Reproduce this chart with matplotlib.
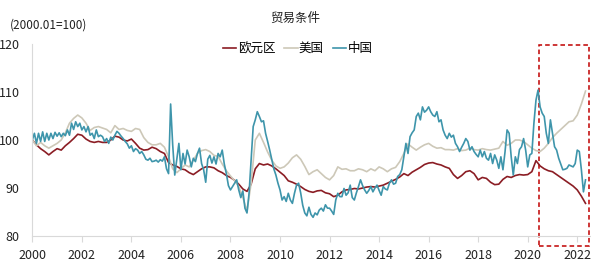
import numpy as np
import matplotlib
matplotlib.use('Agg')
import matplotlib.pyplot as plt
from matplotlib.patches import Rectangle

plt.rcParams['font.family'] = ['Liberation Sans Narrow', 'Noto Sans CJK SC', 'DejaVu Sans']

# 欧元区 / 美国: every other month from 2000.01, 中国: monthly from 2000.01
eu = [100.0, 99.0, 98.2, 97.6, 96.9, 97.6,
      98.2, 97.9, 98.8, 99.5, 100.3, 101.2,
      101.0, 100.2, 99.7, 99.5, 99.7, 99.5,
      99.5, 100.0, 100.8, 100.6, 100.0, 99.8,
      100.2, 99.3, 98.3, 97.9, 98.0, 98.5,
      98.2, 97.6, 97.2, 95.3, 94.8, 94.5,
      94.0, 93.8, 93.2, 92.8, 93.4, 94.0,
      94.4, 94.4, 94.2, 93.6, 93.2, 92.6,
      92.2, 91.6, 90.8, 89.8, 89.3, 90.8,
      94.0, 95.1, 94.8, 95.0, 94.6, 94.0,
      93.3, 92.6, 91.5, 91.2, 90.8, 90.3,
      89.7, 89.3, 89.1, 89.4, 89.5, 89.0,
      88.8, 88.2, 88.5, 89.2, 89.6, 89.7,
      89.9, 89.8, 90.0, 90.2, 90.3, 90.2,
      90.4, 90.6, 91.0, 91.4, 91.8, 92.3,
      93.0, 92.6, 93.3, 93.8, 94.3, 94.9,
      95.2, 95.3, 95.0, 94.8, 94.4, 94.1,
      92.8, 92.0, 92.6, 93.4, 93.6, 93.0,
      91.7, 92.2, 92.0, 91.2, 90.7, 90.8,
      91.8, 92.4, 92.2, 92.6, 92.8, 92.7,
      92.8, 93.4, 95.7, 94.6, 94.0, 93.6,
      93.4, 92.8, 92.2, 91.6, 91.0, 90.4,
      89.6, 88.3, 86.8]

us = [100.0, 98.8, 99.5, 98.8, 98.3, 98.8,
      99.3, 100.0, 101.5, 103.5, 104.5, 105.2,
      104.6, 103.5, 102.0, 102.6, 102.8, 102.5,
      102.2, 101.5, 103.0, 102.2, 102.4, 102.0,
      101.8, 102.4, 102.2, 100.5, 99.5, 99.0,
      99.0, 99.3, 98.5, 96.5, 94.0, 93.2,
      94.0, 94.8, 94.4, 95.8, 97.2, 97.8,
      98.0, 97.6, 96.8, 96.6, 95.0, 93.6,
      92.5, 91.5, 90.3, 88.0, 85.2, 91.0,
      100.0, 101.4, 99.5, 97.5, 95.8, 94.6,
      94.1, 94.4, 95.2, 96.3, 96.9, 96.0,
      94.5, 92.8, 93.4, 93.8, 93.0, 92.2,
      91.7, 92.6, 94.4, 93.9, 94.0, 93.6,
      93.6, 94.0, 93.8, 93.4, 94.0, 93.6,
      94.4, 94.0, 93.4, 94.0, 94.3, 95.5,
      97.2, 99.2, 98.5, 97.9, 98.5, 99.0,
      99.3, 98.7, 98.3, 98.4, 98.0, 98.0,
      97.9, 98.2, 97.8, 97.9, 98.3, 98.0,
      97.9, 98.2, 98.0, 97.9, 98.1, 98.3,
      99.7, 98.9, 99.3, 100.0, 100.0, 99.7,
      99.0, 98.3, 97.8, 97.6, 98.3, 99.3,
      100.5, 101.4, 102.2, 103.0, 103.8, 104.0,
      105.2, 107.5, 110.2]

cn = [100.0, 101.4, 99.3, 101.4, 99.7, 101.7, 99.7, 101.4, 100.0, 101.4, 100.3, 101.6,
      100.8, 101.5, 100.7, 101.4, 100.9, 102.1, 101.0, 103.5, 102.2, 103.8, 102.8, 103.5,
      102.1, 102.8, 101.7, 102.8, 101.0, 101.4, 100.3, 102.1, 100.7, 101.0, 100.7, 99.7,
      100.3, 99.3, 100.6, 100.0, 101.0, 101.8, 101.4, 100.8, 100.3, 99.7, 99.2, 98.3,
      98.8, 97.6, 98.2, 97.9, 97.2, 97.6, 96.9, 96.0, 95.8, 96.2, 95.5, 95.6,
      95.8, 95.4, 95.9, 95.6, 96.5, 94.0, 93.0, 107.5, 99.0, 92.7, 96.0, 99.3,
      93.8, 97.2, 95.0, 97.9, 96.5, 94.4, 96.2, 95.5, 97.2, 98.3, 95.1, 93.8,
      91.2, 96.0, 96.8, 95.2, 96.5, 95.0, 97.2, 96.5, 97.9, 95.0, 93.0, 90.5,
      89.6, 90.3, 91.0, 91.7, 89.6, 88.0, 89.4, 85.8, 84.8, 88.9, 96.0, 102.8,
      104.2, 105.9, 104.9, 103.8, 104.0, 101.4, 99.7, 97.9, 96.0, 94.0, 92.7, 91.0,
      89.6, 87.5, 88.2, 87.2, 88.9, 87.5, 86.8, 88.9, 90.6, 91.0, 89.0, 86.4,
      84.8, 84.2, 86.0, 84.5, 83.9, 84.8, 84.4, 85.4, 85.8, 85.2, 86.5, 85.8,
      85.8, 85.2, 84.5, 87.5, 88.9, 88.2, 88.2, 89.9, 88.5, 89.0, 90.6, 88.0,
      87.5, 89.0, 90.3, 91.7, 90.5, 89.6, 88.9, 89.5, 90.3, 89.2, 90.0, 90.6,
      89.5, 88.5, 90.3, 89.8, 89.6, 91.0, 91.7, 90.8, 91.0, 92.4, 92.8, 93.8,
      96.5, 99.3, 97.2, 100.7, 101.5, 102.1, 104.9, 105.6, 104.2, 106.9, 105.8, 106.2,
      106.9, 105.9, 105.2, 104.9, 105.9, 103.8, 104.2, 102.1, 101.0, 100.3, 101.4, 100.6,
      101.0, 99.3, 98.6, 97.6, 98.5, 99.3, 100.3, 99.7, 97.9, 98.6, 97.6, 97.0,
      96.5, 97.9, 96.5, 97.6, 96.2, 95.8, 97.2, 95.1, 96.9, 95.8, 94.1, 96.5,
      93.8, 97.5, 102.1, 101.4, 96.5, 92.7, 96.5, 95.1, 98.0, 98.6, 100.3, 97.9,
      94.4, 96.9, 97.2, 103.5, 108.3, 110.4, 106.9, 105.6, 104.9, 101.4, 99.3, 104.2,
      101.4, 98.6, 97.9, 96.2, 95.0, 93.8, 93.9, 94.1, 94.8, 94.6, 94.4, 95.1,
      97.9, 97.6, 93.8, 89.2, 91.7]

t_cn = 2000 + np.arange(len(cn)) / 12
t_2m = 2000 + np.arange(len(eu)) * 2 / 12

fig = plt.figure(figsize=(5.91, 2.65), dpi=100)
ax = fig.add_axes([0.0547, 0.1094, 0.943, 0.7245])

ax.plot(t_2m, eu, color='#8B1D24', lw=1.2, label='欧元区')
ax.plot(t_2m, us, color='#CDC8B8', lw=1.2, label='美国')
ax.plot(t_cn, cn, color='#3E95AB', lw=1.2, label='中国')

# highlight box over the latest period
ax.add_patch(Rectangle((2020.47, 78.0), 2.0, 41.8, fill=False, ec='#C00000',
                       ls=(0, (3, 2)), lw=1.1, clip_on=False))

ax.set_xlim(2000, 2022.5)
ax.set_ylim(80, 120)
ax.set_xticks(range(2000, 2023, 2))
ax.set_yticks([80, 90, 100, 110, 120])
for s in ['top', 'right']:
    ax.spines[s].set_visible(False)
for s in ['left', 'bottom']:
    ax.spines[s].set_color('#D9D9D9')
ax.tick_params(axis='x', length=4, color='#D9D9D9', labelsize=9, pad=5, labelcolor='#222222')
ax.tick_params(axis='y', length=0, labelsize=9, pad=9, labelcolor='#222222')

fig.text(0.5, 0.93, '贸易条件', ha='center', va='center', fontsize=9, color='#222222')
fig.text(0.017, 0.905, '(2000.01=100)', ha='left', va='center', fontsize=8.5, color='#222222')

ax.legend(loc='upper center', bbox_to_anchor=(0.476, 1.035), ncol=3, frameon=False,
          fontsize=9, handlelength=1.1, handletextpad=0.1, columnspacing=0.7,
          borderaxespad=0)

fig.savefig('out.png', dpi=100)
